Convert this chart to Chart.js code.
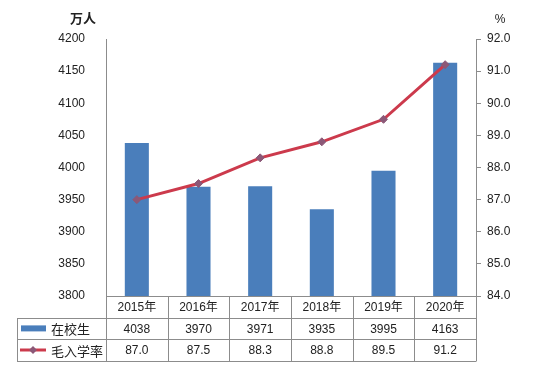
<!DOCTYPE html>
<html>
<head>
<meta charset="utf-8">
<script src="https://cdn.jsdelivr.net/npm/chart.js@4/dist/chart.umd.min.js"></script>
<style>
  body { margin: 0; background: #fff; }
  #wrap { width: 534px; height: 374px; }
</style>
</head>
<body>
<div id="wrap"><canvas id="c" width="534" height="374"></canvas></div>
<script>
// data
const years = ['2015年', '2016年', '2017年', '2018年', '2019年', '2020年'];
const students = [4038, 3970, 3971, 3935, 3995, 4163];
const enrolRate = [87.0, 87.5, 88.3, 88.8, 89.5, 91.2];
const studentsLabel = '在校生';
const rateLabel = '毛入学率';

const BAR = '#4A7EBB';
const LINE = '#CC3A4C';
const MARK = '#8C5877';
const GRID = '#8C8C8C';
const TXT = '#222';
const FONT = '"Liberation Sans", "Noto Sans CJK SC", sans-serif';

// draws unit labels, the data table with its legend keys
const tablePlugin = {
    id: 'dataTable',
    afterDraw(chart) {
        const ctx = chart.ctx;
        const x = chart.scales.x;
        const area = chart.chartArea;
        const rowH = 21.6;
        const top = area.bottom;
        const left = 17;
        const step = (area.right - area.left) / years.length;

        ctx.save();
        ctx.strokeStyle = GRID;
        ctx.lineWidth = 1;
        ctx.beginPath();
        // horizontal lines
        ctx.moveTo(area.left, top + 0.5);
        ctx.lineTo(area.right, top + 0.5);
        for (let r = 1; r <= 3; r++) {
            const y = Math.round(top + r * rowH) + 0.5;
            ctx.moveTo(left, y);
            ctx.lineTo(area.right, y);
        }
        // vertical lines
        const bottom = Math.round(top + 3 * rowH) + 0.5;
        ctx.moveTo(left + 0.5, Math.round(top + rowH) + 0.5);
        ctx.lineTo(left + 0.5, bottom);
        for (let i = 0; i <= years.length; i++) {
            const vx = Math.round(area.left + i * step) + 0.5;
            ctx.moveTo(vx, top);
            ctx.lineTo(vx, bottom);
        }
        ctx.stroke();

        ctx.fillStyle = TXT;
        ctx.font = '12px ' + FONT;
        ctx.textAlign = 'center';
        ctx.textBaseline = 'middle';
        years.forEach((y, i) => {
            const cx = x.getPixelForValue(i);
            ctx.fillText(y, cx, top + rowH * 0.5 + 1);
            ctx.fillText(String(students[i]), cx, top + rowH * 1.5 + 1);
            ctx.fillText(enrolRate[i].toFixed(1), cx, top + rowH * 2.5 + 1);
        });

        // legend keys
        const y1 = top + rowH * 1.5;
        const y2 = top + rowH * 2.5;
        ctx.fillStyle = BAR;
        ctx.fillRect(21, y1 - 3, 25, 6);
        ctx.strokeStyle = LINE;
        ctx.lineWidth = 3;
        ctx.beginPath();
        ctx.moveTo(20, y2);
        ctx.lineTo(46, y2);
        ctx.stroke();
        ctx.fillStyle = MARK;
        ctx.beginPath();
        ctx.moveTo(33, y2 - 4);
        ctx.lineTo(37, y2);
        ctx.lineTo(33, y2 + 4);
        ctx.lineTo(29, y2);
        ctx.closePath();
        ctx.fill();

        ctx.fillStyle = TXT;
        ctx.textAlign = 'left';
        ctx.font = '13px "Noto Sans CJK SC", sans-serif';
        ctx.fillText(studentsLabel, 51, y1 + 1);
        ctx.fillText(rateLabel, 51, y2 + 1);

        // unit labels
        ctx.font = 'bold 13px "Noto Sans CJK SC", sans-serif';
        ctx.textAlign = 'center';
        ctx.fillText('万人', 83, 18);
        ctx.font = '12px ' + FONT;
        ctx.fillText('%', 500, 20);
        ctx.restore();
    }
};

new Chart(document.getElementById('c'), {
    data: {
        labels: years,
        datasets: [
            {
                type: 'line',
                label: rateLabel,
                data: enrolRate,
                yAxisID: 'y1',
                borderColor: LINE,
                borderWidth: 3,
                pointStyle: 'rectRot',
                pointRadius: 4,
                pointBackgroundColor: MARK,
                pointBorderColor: MARK,
                pointBorderWidth: 1,
                tension: 0,
                order: 0
            },
            {
                type: 'bar',
                label: studentsLabel,
                data: students,
                yAxisID: 'y',
                backgroundColor: BAR,
                categoryPercentage: 1,
                barPercentage: 0.39,
                order: 1
            }
        ]
    },
    options: {
        responsive: false,
        animation: false,
        layout: { padding: { top: 39, bottom: 78, left: 0, right: 0 } },
        plugins: { legend: { display: false }, tooltip: { enabled: false } },
        scales: {
            x: { display: false, offset: true },
            y: {
                position: 'left',
                min: 3800,
                max: 4200,
                afterFit(s) { s.width = 106; },
                grid: { display: false },
                border: { display: true, color: GRID },
                ticks: {
                    stepSize: 50,
                    padding: 13,
                    color: TXT,
                    font: { size: 12, family: FONT },
                    callback: v => String(v)
                }
            },
            y1: {
                position: 'right',
                min: 84,
                max: 92,
                afterFit(s) { s.width = 58; },
                grid: { drawOnChartArea: false, tickLength: 5, color: GRID },
                border: { display: true, color: GRID },
                ticks: {
                    stepSize: 1,
                    padding: 6,
                    color: TXT,
                    font: { size: 12, family: FONT },
                    callback: v => v.toFixed(1)
                }
            }
        }
    },
    plugins: [tablePlugin]
});
</script>
</body>
</html>
